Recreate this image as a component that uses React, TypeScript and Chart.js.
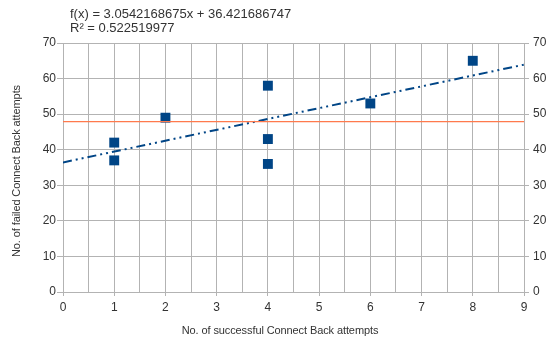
import { useEffect, useRef } from 'react';
import { Chart, registerables } from 'chart.js';

Chart.register(...registerables);

const successful = [1, 1, 2, 4, 4, 4, 6, 8];
const failed = [42, 37, 49, 58, 43, 36, 53, 65];
const xRange = [0, 9];
const yRange = [0, 70];
const equationText = 'f(x) = 3.0542168675x + 36.421686747';
const rSquaredText = 'R² = 0.522519977';
const xTitle = 'No. of successful Connect Back attempts';
const yTitle = 'No. of failed Connect Back attempts';

const FONT = '"Liberation Sans", Arial, sans-serif';
const BLUE = '#004586';
const GRID = '#b3b3b3';
const TEXT = '#333333';

function regression(xs: number[], ys: number[]) {
  const n = xs.length;
  const mx = xs.reduce((a, b) => a + b, 0) / n;
  const my = ys.reduce((a, b) => a + b, 0) / n;
  let sxy = 0;
  let sxx = 0;
  for (let i = 0; i < n; i++) {
    sxy += (xs[i] - mx) * (ys[i] - my);
    sxx += (xs[i] - mx) * (xs[i] - mx);
  }
  const slope = sxy / sxx;
  return { slope, intercept: my - slope * mx, mean: my };
}

export default function App() {
  const ref = useRef<HTMLCanvasElement | null>(null);

  useEffect(() => {
    document.body.style.margin = '0';
    const canvas = ref.current;
    if (!canvas) return;
    const { slope, intercept, mean } = regression(successful, failed);
    const points = successful.map((x, i) => ({ x, y: failed[i] }));
    const trend = xRange.map((x) => ({ x, y: intercept + slope * x }));
    const meanLine = xRange.map((x) => ({ x, y: mean }));

    const textPlugin = {
      id: 'texts',
      afterDraw(chart: any) {
        const ctx = chart.ctx;
        ctx.save();
        ctx.fillStyle = TEXT;
        ctx.font = `13px ${FONT}`;
        ctx.textAlign = 'left';
        ctx.textBaseline = 'alphabetic';
        ctx.fillText(equationText, 70, 18);
        ctx.fillText(rSquaredText, 70, 32);
        ctx.font = `11px ${FONT}`;
        ctx.textAlign = 'center';
        ctx.textBaseline = 'middle';
        try {
          (ctx as any).letterSpacing = '-0.1px';
        } catch (e) {}
        ctx.fillText(xTitle, 280, 331);
        ctx.translate(17, 171);
        ctx.rotate(-Math.PI / 2);
        ctx.fillText(yTitle, 0, 0);
        ctx.restore();
      },
    };

    const chart = new Chart(canvas, {
      type: 'scatter',
      data: {
        datasets: [
          {
            label: 'mean',
            type: 'line',
            data: meanLine,
            borderColor: '#ff7a4d',
            borderWidth: 1.2,
            pointRadius: 0,
            fill: false,
          } as any,
          {
            label: 'trend',
            type: 'line',
            data: trend,
            borderColor: BLUE,
            borderWidth: 2,
            borderDash: [9, 4, 2, 4, 2, 4],
            pointRadius: 0,
            fill: false,
          } as any,
          {
            label: 'data',
            data: points,
            backgroundColor: BLUE,
            borderColor: BLUE,
            borderWidth: 0,
            pointStyle: 'rect',
            pointRadius: 7,
          },
        ],
      },
      options: {
        responsive: false,
        animation: false,
        layout: { padding: { top: 43, left: 0, right: 0, bottom: 0 } },
        plugins: {
          legend: { display: false },
          tooltip: { enabled: false },
        },
        scales: {
          x: {
            type: 'linear',
            min: xRange[0],
            max: xRange[1],
            afterFit: (s: any) => {
              s.height = 46;
            },
            ticks: {
              stepSize: 0.5,
              autoSkip: false,
              maxRotation: 0,
              padding: 4,
              color: TEXT,
              font: { family: FONT, size: 12 },
              callback: (v: any) => (Number.isInteger(v) ? String(v) : ''),
            },
            grid: {
              color: GRID,
              lineWidth: 1,
              tickLength: 4,
              tickColor: (c: any) => (Number.isInteger(c.tick?.value) ? GRID : 'rgba(0,0,0,0)'),
            },
            border: { color: GRID },
          },
          y: {
            type: 'linear',
            position: 'left',
            min: yRange[0],
            max: yRange[1],
            afterFit: (s: any) => {
              s.width = 63;
            },
            ticks: {
              stepSize: 10,
              padding: 1,
              color: TEXT,
              font: { family: FONT, size: 12 },
            },
            grid: { color: GRID, lineWidth: 1, tickLength: 6 },
            border: { color: GRID },
          },
          y2: {
            type: 'linear',
            position: 'right',
            min: yRange[0],
            max: yRange[1],
            afterFit: (s: any) => {
              s.width = 27;
            },
            ticks: {
              stepSize: 10,
              padding: 4,
              color: TEXT,
              font: { family: FONT, size: 12 },
            },
            grid: { drawOnChartArea: false, color: GRID, tickLength: 5 },
            border: { color: GRID },
          },
        },
      },
      plugins: [textPlugin],
    });
    return () => chart.destroy();
  }, []);

  return (
    <div style={{ position: 'absolute', left: 0, top: 0, width: 551, height: 338 }}>
      <canvas ref={ref} width={551} height={338} />
    </div>
  );
}
